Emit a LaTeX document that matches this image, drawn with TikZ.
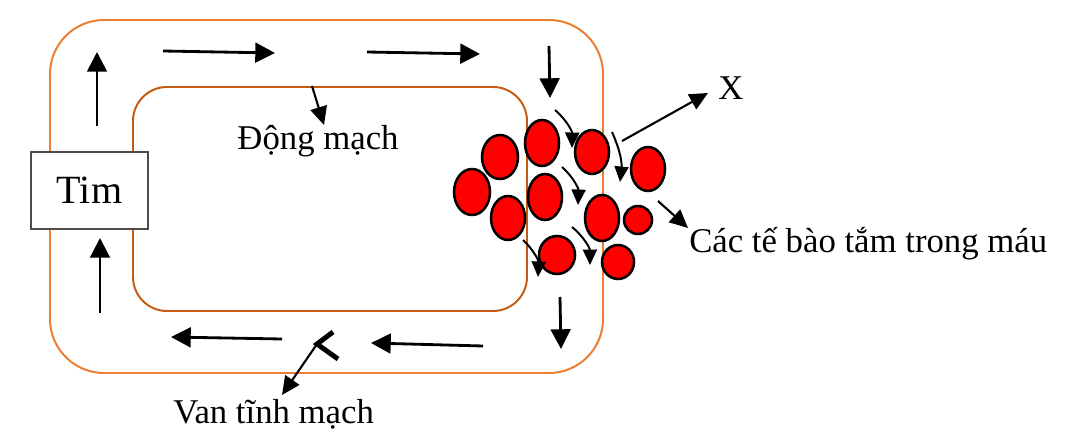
\documentclass[tikz,border=0pt]{standalone}
\usepackage{fontspec}
\setmainfont{Liberation Serif}
\usetikzlibrary{arrows.meta}

\definecolor{vesselout}{HTML}{ED7D31}
\definecolor{vesselin}{HTML}{C55A11}

\tikzset{
  flow/.style={line width=2pt, -{Triangle[length=14pt,width=14pt]}},
  pointer/.style={line width=1.5pt, -{Triangle[length=13pt,width=12pt]}},
  swirl/.style={line width=1.4pt, -{Triangle[length=11pt,width=10pt]}},
  cell/.style={draw=black, fill=red, line width=1.8pt},
  label/.style={font=\fontsize{24.7}{28}\selectfont, inner sep=0pt}
}

\begin{document}
\begin{tikzpicture}[x=0.025cm, y=-0.025cm]
\useasboundingbox (0,0) rectangle (1075,445);
% Draw vessel walls
\draw[vesselout, line width=1.4pt, rounded corners=1.35cm] (50,20) rectangle (603,373);
\draw[vesselin, line width=1.4pt, rounded corners=0.85cm] (133,87) rectangle (527,311);
% Heart
\node (tim) [draw=black!70, fill=white, line width=1pt, minimum width=2.93cm,
  minimum height=1.93cm, font=\fontsize{28.5}{32}\selectfont] at (89.5,190.5) {Tim};
% Flow of blood
\draw[flow] (97,126) -- (97,52);
\draw[flow] (163,51) -- (275,53);
\draw[flow] (367,52) -- (480,54);
\draw[flow] (549,46) -- (550,98);
\draw[flow] (560,297) -- (561,349);
\draw[flow] (483,346) -- (371,343);
\draw[flow] (282,339) -- (171,337);
\draw[flow] (100,313) -- (100,238);
% Blood cells
\foreach \cx/\cy/\rx/\ry in {500/157/18/22, 542/143/17/23, 592/152/17/22,
  648/169/17/22, 472/192/18/23, 545/197/17/23, 508/218/17/22, 602/218/17/23,
  638/220/14/14, 557/255/18/19, 618/262/16/17}
  \draw[cell] (\cx,\cy) ellipse [x radius=\rx, y radius=\ry];
% Cells squeezing through
\draw[swirl] (555,110) to[bend left=25] (572,148);
\draw[swirl] (612,132) to[bend left=15] (620,182);
\draw[swirl] (562,167) to[bend left=25] (578,205);
\draw[swirl] (523,240) to[bend left=25] (538,277);
\draw[swirl] (572,227) to[bend left=25] (590,265);
% Valve
\coordinate (valve) at (317,344);
\draw[line width=3.5pt] (333,332) -- (valve) -- (338,359);
% Labels
\node (dm) [label, anchor=base] at (318,150) {Động mạch};
\node (x) [label, anchor=center] at (731,88) {X};
\node (cells) [label, anchor=base west] at (689,252) {Các tế bào tắm trong máu};
\node (van) [label, anchor=base west] at (173,423) {Van tĩnh mạch};
% Pointers
\coordinate (dmtail) at (312,86);
\coordinate (dmtip) at (324,125);
\coordinate (xtail) at (622,141);
\coordinate (xtip) at (708,93);
\coordinate (celltail) at (658,201);
\coordinate (celltip) at (688,228);
\coordinate (vantip) at (282,395);
\draw[pointer] (dmtail) -- (dmtip);
\draw[pointer] (xtail) -- (xtip);
\draw[pointer] (celltail) -- (celltip);
\draw[pointer] (valve) -- (vantip);
\end{tikzpicture}
\end{document}
